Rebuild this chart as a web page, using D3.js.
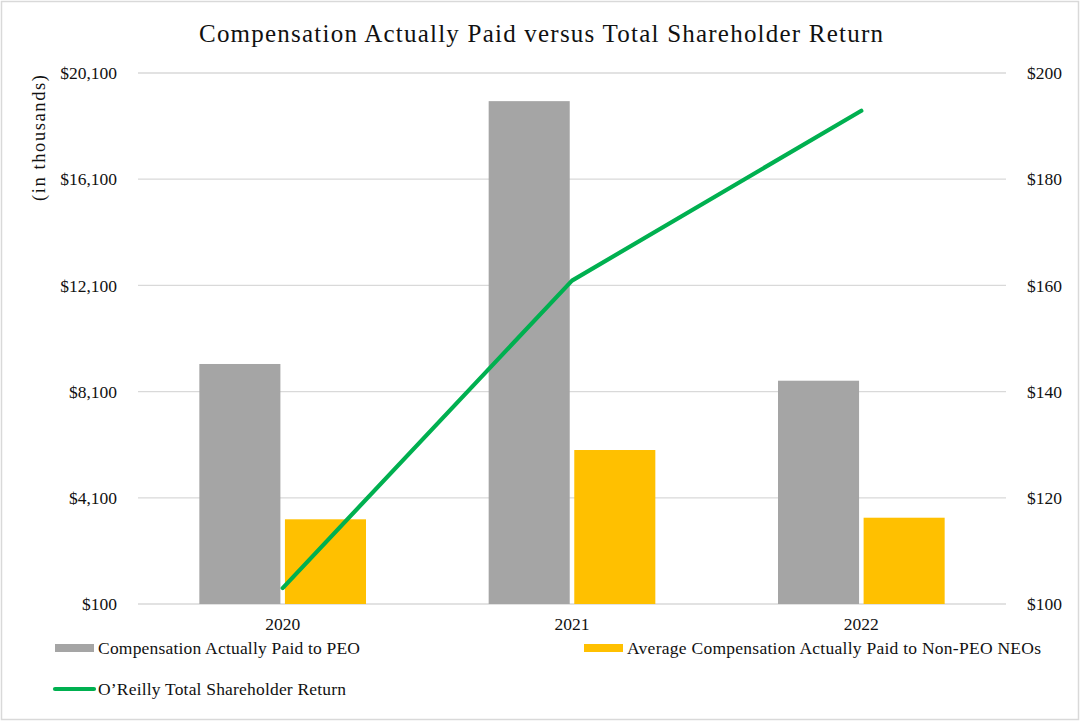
<!DOCTYPE html>
<html>
<head>
<meta charset="utf-8">
<script src="https://cdn.jsdelivr.net/npm/d3@7"></script>
<style>
  html, body { margin: 0; padding: 0; background: #fff; }
  svg { display: block; }
  text { font-family: "Liberation Serif", "Times New Roman", serif; fill: #111; }
</style>
</head>
<body>
<svg id="chart" width="1080" height="721"></svg>
<script>
// ---- data ----
const years = ["2020", "2021", "2022"];
const seriesNames = ["Compensation Actually Paid to PEO", "Average Compensation Actually Paid to Non-PEO NEOs"];
const peoValues = [9140, 19040, 8510];
const nonPeoValues = [3290, 5900, 3350];
const tsrValues = [103.0, 160.9, 192.9];
const tsrName = "O\u2019Reilly Total Shareholder Return";
const leftTicks = [100, 4100, 8100, 12100, 16100, 20100];
const rightTicks = [100, 120, 140, 160, 180, 200];
const titleText = "Compensation Actually Paid versus Total Shareholder Return";
const yTitle = "(in thousands)";

// ---- layout ----
const W = 1080, H = 721;
const plot = { left: 138, right: 1006, top: 73, bottom: 604 };
const colors = { peo: "#a5a5a5", non: "#ffc000", tsr: "#00b050", grid: "#d9d9d9" };

const svg = d3.select("#chart");

// border
svg.append("rect").attr("x", 1.5).attr("y", 1.5).attr("width", W - 3).attr("height", H - 3)
  .attr("fill", "#fff").attr("stroke", "#d9d9d9").attr("stroke-width", 1.5);

const x0 = d3.scaleBand().domain(years).range([plot.left, plot.right]).paddingInner(0).paddingOuter(0);
const bw = x0.bandwidth();
const groupW = bw * 0.576;
const x1 = d3.scaleBand().domain(seriesNames)
  .range([(bw - groupW) / 2, (bw + groupW) / 2]).paddingInner(0.053).paddingOuter(0);
const yL = d3.scaleLinear().domain([100, 20100]).range([plot.bottom, plot.top]);
const yR = d3.scaleLinear().domain([100, 200]).range([plot.bottom, plot.top]);

// gridlines
svg.append("g").selectAll("line").data(leftTicks).join("line")
  .attr("x1", plot.left).attr("x2", plot.right)
  .attr("y1", d => yL(d)).attr("y2", d => yL(d))
  .attr("stroke", colors.grid).attr("stroke-width", 1.3);

// bars
const barData = years.map((y, i) => [
  { year: y, s: seriesNames[0], v: peoValues[i], c: colors.peo },
  { year: y, s: seriesNames[1], v: nonPeoValues[i], c: colors.non }
]).flat();
svg.append("g").selectAll("rect").data(barData).join("rect")
  .attr("x", d => x0(d.year) + x1(d.s))
  .attr("width", x1.bandwidth())
  .attr("y", d => yL(d.v))
  .attr("height", d => yL(100) - yL(d.v))
  .attr("fill", d => d.c);

// line
const line = d3.line().x((d, i) => x0(years[i]) + bw / 2).y(d => yR(d));
svg.append("path").datum(tsrValues).attr("d", line)
  .attr("fill", "none").attr("stroke", colors.tsr).attr("stroke-width", 4.2)
  .attr("stroke-linecap", "round").attr("stroke-linejoin", "round");

// axes
const fmtL = d => "$" + d3.format(",")(d);
const fmtR = d => "$" + d;
const axL = svg.append("g").attr("transform", `translate(${plot.left},0)`)
  .call(d3.axisLeft(yL).tickValues(leftTicks).tickFormat(fmtL).tickSize(0).tickPadding(21));
const axR = svg.append("g").attr("transform", `translate(${plot.right},0)`)
  .call(d3.axisRight(yR).tickValues(rightTicks).tickFormat(fmtR).tickSize(0).tickPadding(21));
const axB = svg.append("g").attr("transform", `translate(0,${plot.bottom})`)
  .call(d3.axisBottom(x0).tickSize(0).tickPadding(14));
[axL, axR, axB].forEach(a => {
  a.select(".domain").remove();
  a.selectAll("text").style("font-family", "Liberation Serif, serif").style("font-size", "17.5px").attr("fill", "#111");
});

// title
svg.append("text").attr("x", 541).attr("y", 42).attr("text-anchor", "middle")
  .style("font-size", "25px").attr("textLength", 684).attr("lengthAdjust", "spacing")
  .text(titleText);

// y title
svg.append("text").attr("transform", "translate(45,138) rotate(-90)").attr("text-anchor", "middle")
  .style("font-size", "18.5px").attr("textLength", 126).attr("lengthAdjust", "spacing")
  .text(yTitle);

// legend
const lg = svg.append("g");
const items = [
  { type: "rect", c: colors.peo, x: 55, y: 648, label: seriesNames[0], tl: 262 },
  { type: "rect", c: colors.non, x: 584, y: 648, label: seriesNames[1], tl: 414 },
  { type: "line", c: colors.tsr, x: 55, y: 689, label: tsrName, tl: 248 }
];
items.forEach(it => {
  if (it.type === "rect") {
    lg.append("rect").attr("x", it.x).attr("y", it.y - 4).attr("width", 39).attr("height", 8).attr("fill", it.c);
  } else {
    lg.append("line").attr("x1", it.x).attr("x2", it.x + 39).attr("y1", it.y).attr("y2", it.y)
      .attr("stroke", it.c).attr("stroke-width", 4.2).attr("stroke-linecap", "round");
  }
  lg.append("text").attr("x", it.x + 43).attr("y", it.y + 6)
    .style("font-size", "17.5px").attr("textLength", it.tl).attr("lengthAdjust", "spacing")
    .text(it.label);
});
</script>
</body>
</html>
